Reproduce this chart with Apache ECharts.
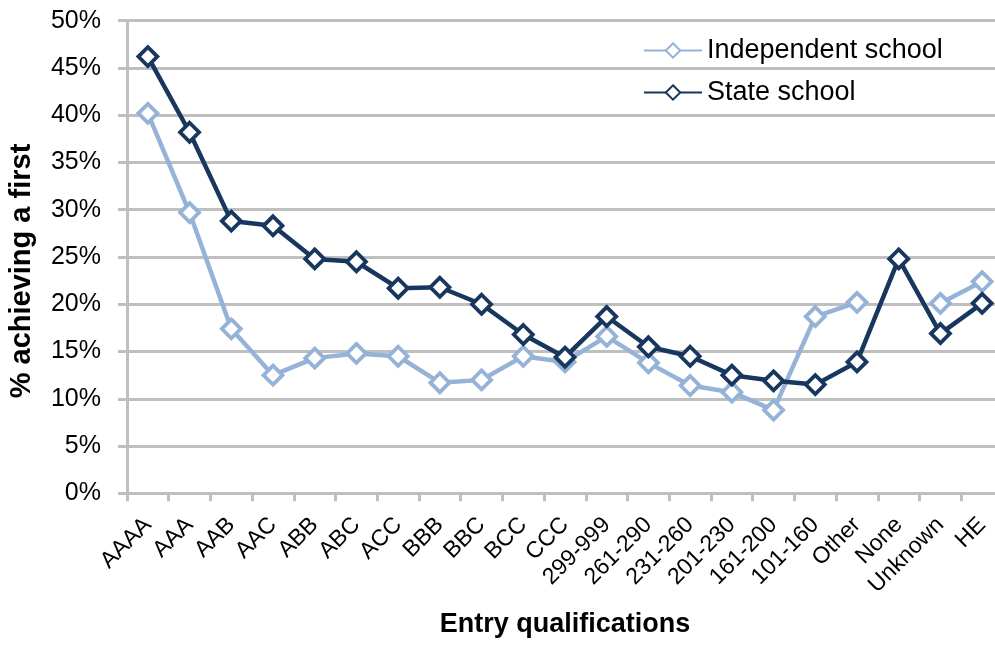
<!DOCTYPE html>
<html>
<head>
<meta charset="utf-8">
<script src="https://cdn.jsdelivr.net/npm/echarts@6/dist/echarts.min.js"></script>
<style>
  html, body {margin: 0; padding: 0; background: #fff;}
  #chart {width: 995px; height: 646px;}
</style>
</head>
<body>
<div id="chart"></div>
<script>
// entry qualification bands
var categories = ["AAAA", "AAA", "AAB", "AAC", "ABB", "ABC", "ACC", "BBB", "BBC", "BCC", "CCC",
  "299-999", "261-290", "231-260", "201-230", "161-200", "101-160", "Other", "None", "Unknown", "HE"];
// % achieving a first
var independent = [40.2, 29.7, 17.4, 12.5, 14.3, 14.8, 14.5, 11.7, 12.0, 14.5, 13.9,
  16.6, 13.8, 11.4, 10.7, 8.8, 18.7, 20.2, null, 20.1, 22.4];
var state = [46.2, 38.2, 28.8, 28.3, 24.8, 24.5, 21.7, 21.8, 20.0, 16.8, 14.4,
  18.7, 15.5, 14.5, 12.5, 11.9, 11.5, 13.9, 24.8, 16.9, 20.1];
var yTicks = [0, 5, 10, 15, 20, 25, 30, 35, 40, 45, 50];

var font = "Liberation Sans, Arial, sans-serif";
var grey = "#BFBFBF";

function lineSeries(name, data, color) {
  return {
    name: name,
    type: "line",
    data: data,
    connectNulls: false,
    symbol: "diamond",
    symbolSize: 19,
    lineStyle: {color: color, width: 4.5},
    itemStyle: {color: "#fff", borderColor: color, borderWidth: 3.8},
    emphasis: {disabled: true}
  };
}

var chart = echarts.init(document.getElementById("chart"));
chart.setOption({
  animation: false,
  textStyle: {fontFamily: font},
  grid: {left: 127, right: -8, top: 20.7, bottom: 152.7, outerBoundsMode: "none", containLabel: false},
  legend: {
    orient: "vertical",
    left: 638,
    top: 32,
    itemWidth: 58,
    itemHeight: 18,
    itemGap: 15,
    textStyle: {fontSize: 27, color: "#000", fontFamily: font},
    data: ["Independent school", "State school"]
  },
  xAxis: {
    type: "category",
    data: categories,
    boundaryGap: true,
    name: "Entry qualifications",
    nameLocation: "middle",
    nameGap: 118,
    nameTextStyle: {fontSize: 27, fontWeight: "bold", color: "#000"},
    axisLine: {lineStyle: {color: grey, width: 3}},
    axisTick: {show: true, length: 8, lineStyle: {color: grey, width: 3}},
    axisLabel: {rotate: 45, fontSize: 23, color: "#000", margin: 28, interval: 0}
  },
  yAxis: {
    type: "value",
    min: yTicks[0],
    max: yTicks[yTicks.length - 1],
    interval: 5,
    name: "% achieving a first",
    nameLocation: "middle",
    nameGap: 91,
    nameTextStyle: {fontSize: 29, fontWeight: "bold", color: "#000", padding: [0, 28, 0, 0]},
    axisLine: {show: true, lineStyle: {color: grey, width: 3}},
    axisTick: {show: true, length: 9, lineStyle: {color: grey, width: 3}},
    axisLabel: {formatter: "{value}%", fontSize: 25, color: "#000", margin: 26},
    splitLine: {lineStyle: {color: grey, width: 3}}
  },
  series: [
    lineSeries("Independent school", independent, "#95B3D7"),
    lineSeries("State school", state, "#17375E")
  ]
});
</script>
</body>
</html>
